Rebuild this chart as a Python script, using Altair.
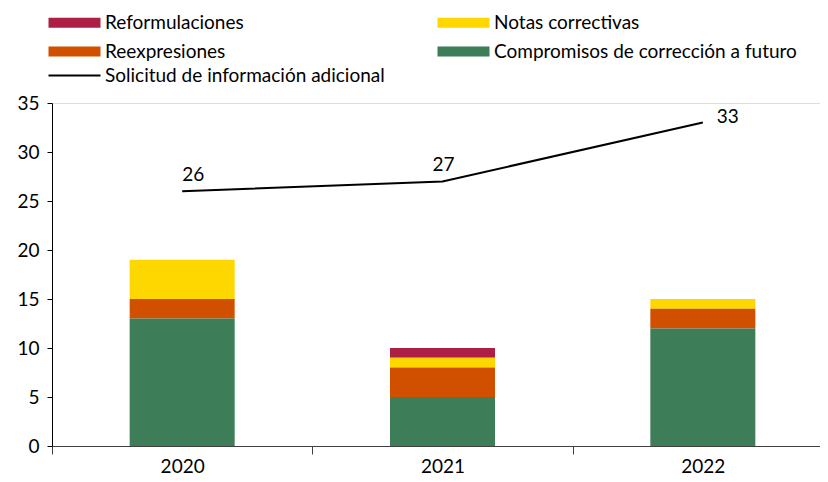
import altair as alt
import pandas as pd

years = ["2020", "2021", "2022"]
compromisos = [13, 5, 12]
reexpresiones = [2, 3, 2]
notas = [4, 1, 1]
reformulaciones = [0, 1, 0]
solicitud = [26, 27, 33]

series_names = ["Reformulaciones", "Reexpresiones", "Notas correctivas",
                "Compromisos de corrección a futuro"]
series_colors = ["#AE1F45", "#D05000", "#FFD700", "#3D7D58"]
stack_order = {"Compromisos de corrección a futuro": 0, "Reexpresiones": 1,
               "Notas correctivas": 2, "Reformulaciones": 3}
line_name = "Solicitud de información adicional"

values = {
    "Reformulaciones": reformulaciones,
    "Notas correctivas": notas,
    "Reexpresiones": reexpresiones,
    "Compromisos de corrección a futuro": compromisos,
}
rows = []
for s, vals in values.items():
    for y, v in zip(years, vals):
        rows.append({"Año": y, "Serie": s, "Valor": v, "orden": stack_order[s]})
bars_df = pd.DataFrame(rows)
line_df = pd.DataFrame({"Año": years, "Valor": solicitud, "Serie": [line_name] * 3})

FONT = "Lato"
rect_path = "M-5.2,-1H5.2V1H-5.2Z"
line_path = "M-5.2,0H5.2"

x_enc = alt.X("Año:N", title=None,
              scale=alt.Scale(range=[0, 781], paddingInner=0, paddingOuter=0),
              axis=alt.Axis(labelAngle=0, tickBand="extent", tickSize=8,
                            labelPadding=3, labelFontSize=19, labelColor="black",
                            domainColor="#404040", tickColor="#404040",
                            labelFont=FONT))

bars = alt.Chart(bars_df).mark_bar(size=105).encode(
    x=x_enc,
    y=alt.Y("Valor:Q", title=None, stack="zero",
            scale=alt.Scale(domain=[0, 35], nice=False),
            axis=alt.Axis(values=[0, 5, 10, 15, 20, 25, 30, 35], grid=False,
                          tickSize=5, labelPadding=8, labelFontSize=19,
                          labelColor="black", domainColor="black", tickColor="black",
                          labelFont=FONT)),
    color=alt.Color("Serie:N",
                    scale=alt.Scale(domain=series_names, range=series_colors),
                    legend=alt.Legend(title=None, orient="none", legendX=13, legendY=-90,
                                      columns=2, columnPadding=193, rowPadding=9,
                                      symbolType=rect_path, symbolSize=100,
                                      symbolStrokeWidth=0, symbolOpacity=1,
                                      labelFontSize=19, labelFont=FONT, labelOffset=21,
                                      labelLimit=500,
                                      labelColor="black", padding=0)),
    order=alt.Order("orden:Q"),
)

line = alt.Chart(line_df).mark_line(strokeWidth=2).encode(
    x=alt.X("Año:N", bandPosition=0.5),
    y="Valor:Q",
    stroke=alt.Stroke("Serie:N", scale=alt.Scale(domain=[line_name], range=["black"]),
                      legend=alt.Legend(title=None, orient="none", legendX=13, legendY=-37,
                                        symbolType=line_path, symbolSize=100,
                                        symbolStrokeWidth=2, labelFontSize=19,
                                        labelFont=FONT, labelOffset=21, labelLimit=500,
                                        labelColor="black", padding=0)),
)

def label(year, dx, dy):
    return alt.Chart(line_df).transform_filter(alt.datum["Año"] == year).mark_text(
        align="left", baseline="middle", dx=dx, dy=dy, fontSize=19, font=FONT,
        color="black").encode(
        x=alt.X("Año:N", bandPosition=0.5),
        y="Valor:Q",
        text="Valor:Q",
    )

chart = alt.layer(bars, line, label("2020", 0, -16), label("2021", -10, -16),
                  label("2022", 14, -6)).properties(
    width=768, height=343,
    autosize=alt.AutoSizeParams(type="none"),
    padding={"left": 44, "top": 95, "right": 0, "bottom": 30},
).configure_view(stroke=None).configure(font=FONT)

chart.save("out.html", embed_options={"renderer": "svg", "actions": False})
